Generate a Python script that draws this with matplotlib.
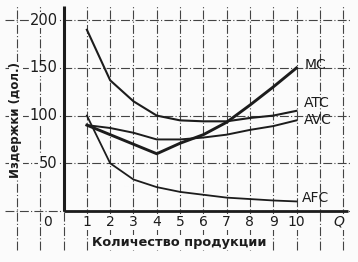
import matplotlib
matplotlib.use("Agg")
import matplotlib.pyplot as plt

q = [1, 2, 3, 4, 5, 6, 7, 8, 9, 10]
afc = [100, 50, 33, 25, 20, 17, 14, 12.5, 11, 10]
avc = [90, 87, 82, 75, 75, 77, 80, 85, 89, 95]
atc = [190, 137, 115, 100, 95, 94, 94, 97.5, 100, 105]
mc = [90, 80, 70, 60, 71, 80, 93, 111, 130, 150]

x_ticks = [1, 2, 3, 4, 5, 6, 7, 8, 9, 10]
y_ticks = [50, 100, 150, 200]
grid_x = list(range(-2, 13))
grid_y = [0, 50, 100, 150, 200]

ink = "#1c1c1c"
fig = plt.figure(figsize=(3.58, 2.62), dpi=100)
fig.patch.set_facecolor("#fbfbfb")
ax = fig.add_axes([0, 0, 1, 1])
ax.set_facecolor("#fbfbfb")
ax.set_xlim(-2.73, 12.64)
ax.set_ylim(-53.5, 221.2)
for s in ax.spines.values():
    s.set_visible(False)
ax.set_xticks([])
ax.set_yticks([])

dash = (0, (8, 2, 1, 2))
ax.vlines(grid_x, -41, 216, colors="#444444", linewidth=0.8, linestyles=[dash])
ax.hlines(grid_y, -2.5, 12.3, colors="#444444", linewidth=0.8, linestyles=[dash])

# axes
ax.plot([0, 0], [0, 215], color=ink, lw=2.2, solid_capstyle="butt")
ax.plot([0, 12.2], [0, 0], color=ink, lw=2.0, solid_capstyle="butt")

ax.plot(q, afc, color=ink, lw=1.3)
ax.plot(q, avc, color=ink, lw=1.4)
ax.plot(q, atc, color=ink, lw=1.5)
ax.plot(q, mc, color=ink, lw=2.1)

bb = dict(facecolor="#fbfbfb", edgecolor="none", pad=0.5)
for t in x_ticks:
    ax.text(t, -11.5, str(t), ha="center", va="center", fontsize=10,
            color=ink, bbox=bb)
for v in y_ticks:
    ax.text(-0.25, v, str(v), ha="right", va="center", fontsize=10.5,
            color=ink, bbox=bb)
ax.text(-0.7, -11.5, "0", ha="center", va="center", fontsize=10, color=ink, bbox=bb)
ax.text(11.8, -11.5, "Q", ha="center", va="center", fontsize=10, color=ink,
        style="italic", bbox=bb)

ax.text(10.35, 153, "MC", ha="left", va="center", fontsize=10, color=ink)
ax.text(10.3, 113, "ATC", ha="left", va="center", fontsize=10, color=ink)
ax.text(10.3, 95, "AVC", ha="left", va="center", fontsize=10, color=ink)
ax.text(10.25, 13.6, "AFC", ha="left", va="center", fontsize=10, color=ink)

ax.text(4.95, -33, "Количество продукции", ha="center", va="center",
        fontsize=9.3, fontweight="bold", color=ink, bbox=bb)
ax.text(-2.05, 95, "Издержки (дол.)", ha="center", va="center", rotation=90,
        fontsize=8.5, fontweight="bold", color=ink, bbox=bb)

fig.savefig("out.png", dpi=100, facecolor=fig.get_facecolor())
